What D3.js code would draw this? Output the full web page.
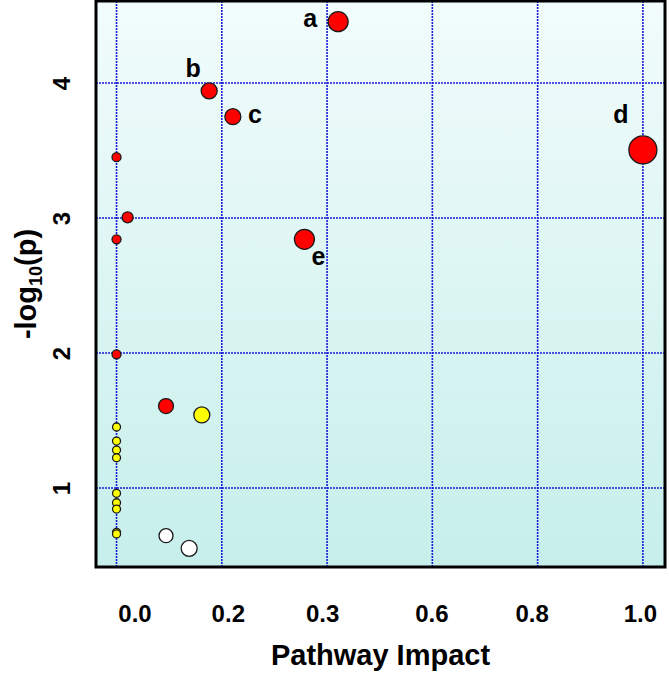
<!DOCTYPE html>
<html><head><meta charset="utf-8">
<script src="https://cdn.jsdelivr.net/npm/d3@7/dist/d3.min.js"></script>
<style>html,body{margin:0;padding:0;background:#fff;}svg{display:block;}</style>
</head><body>
<svg id="chart" width="669" height="676"></svg>
<script>
// ---- data ----
const xTickValues = [0, 0.2, 0.4, 0.6, 0.8, 1.0];
const xTickLabels = ["0.0", "0.2", "0.3", "0.6", "0.8", "1.0"];
const yTickValues = [1, 2, 3, 4];
const yTickLabels = ["1", "2", "3", "4"];

const pathwayImpact = [0.421, 0.176, 0.221, 1.0, 0.357, 0.0, 0.021, 0.0, 0.0, 0.094, 0.162,
  0.0, 0.0, 0.0, 0.0, 0.0, 0.0, 0.0, 0.0, 0.0, 0.094, 0.138];
const negLog10P = [4.454, 3.941, 3.750, 3.504, 2.842, 3.450, 3.005, 2.842, 1.990, 1.607, 1.541,
  1.452, 1.348, 1.281, 1.224, 0.961, 0.891, 0.844, 0.672, 0.660, 0.647, 0.553];
const nodeSize = [10, 8, 8, 14, 10, 4.5, 5.5, 4.5, 4.5, 7.5, 8,
  4, 4, 4, 4, 4, 4, 4, 4, 4, 7, 8];
const significance = ["high", "high", "high", "high", "high", "high", "high", "high", "high", "high", "mid",
  "mid", "mid", "mid", "mid", "mid", "mid", "mid", "mid", "mid", "low", "low"];
const pointLabels = ["a", "b", "c", "d", "e", "", "", "", "", "", "",
  "", "", "", "", "", "", "", "", "", "", ""];

// ---- layout ----
const svg = d3.select("#chart");
const plot = {left: 96, right: 665, top: 1, bottom: 567};
const xLabelShift = [18, 6, -5, -1, -6, -3];

const x = d3.scaleLinear().domain([-0.039, 1.042]).range([plot.left, plot.right]);
const y = d3.scaleLinear().domain([0.415, 4.607]).range([plot.bottom, plot.top]);
const r = d3.scaleLinear().domain([0, 14]).range([0, 14]);
const color = d3.scaleOrdinal().domain(["high", "mid", "low"]).range(["#ff0000", "#ffff00", "#ffffff"]);

const defs = svg.append("defs");
const grad = defs.append("linearGradient").attr("id", "bg").attr("x1", 0).attr("y1", 0).attr("x2", 0).attr("y2", 1);
grad.append("stop").attr("offset", "0%").attr("stop-color", "#f2fcfc");
grad.append("stop").attr("offset", "100%").attr("stop-color", "#c6efeb");

svg.append("rect")
  .attr("x", plot.left).attr("y", plot.top)
  .attr("width", plot.right - plot.left).attr("height", plot.bottom - plot.top)
  .attr("fill", "url(#bg)");

// grid
const grid = svg.append("g").attr("stroke", "#1a1ad6").attr("stroke-width", 1.6).attr("stroke-dasharray", "2,1");
grid.selectAll("line.v").data(xTickValues).join("line").attr("class", "v")
  .attr("x1", d => x(d)).attr("x2", d => x(d)).attr("y1", plot.top).attr("y2", plot.bottom);
grid.selectAll("line.h").data(yTickValues).join("line").attr("class", "h")
  .attr("y1", d => y(d)).attr("y2", d => y(d)).attr("x1", plot.left).attr("x2", plot.right);

// axes (labels only)
const xAxis = d3.axisBottom(x).tickValues(xTickValues)
  .tickFormat((d, i) => xTickLabels[i]).tickSize(0).tickPadding(0);
const gx = svg.append("g").attr("transform", `translate(0,${plot.bottom})`).call(xAxis);
gx.select(".domain").remove();
gx.selectAll("text").attr("dy", null).attr("y", 55)
  .attr("x", (d, i) => xLabelShift[i])
  .attr("font-family", "Liberation Sans, Arial, sans-serif").attr("font-size", 24)
  .attr("font-weight", "bold").attr("fill", "#000");

const yAxis = d3.axisLeft(y).tickValues(yTickValues)
  .tickFormat((d, i) => yTickLabels[i]).tickSize(0).tickPadding(0);
const gy = svg.append("g").attr("transform", `translate(${plot.left},0)`).call(yAxis);
gy.select(".domain").remove();
gy.selectAll(".tick text")
  .attr("x", null).attr("dy", null)
  .attr("text-anchor", "middle")
  .attr("transform", "translate(-26,0) rotate(-90)")
  .attr("font-family", "Liberation Sans, Arial, sans-serif").attr("font-size", 24)
  .attr("font-weight", "bold").attr("fill", "#000");

// points
const idx = d3.range(pathwayImpact.length);
svg.append("g").selectAll("circle").data(idx).join("circle")
  .attr("cx", i => x(pathwayImpact[i]))
  .attr("cy", i => y(negLog10P[i]))
  .attr("r", i => r(nodeSize[i]))
  .attr("fill", i => color(significance[i]))
  .attr("stroke", "#1a1a1a").attr("stroke-width", 1.3);

// point labels
const labelOffset = {a: [-28, 5], b: [-16, -14], c: [22, 6], d: [-22, -27], e: [14, 26]};
svg.append("g").selectAll("text").data(idx.filter(i => pointLabels[i])).join("text")
  .attr("x", i => x(pathwayImpact[i]) + labelOffset[pointLabels[i]][0])
  .attr("y", i => y(negLog10P[i]) + labelOffset[pointLabels[i]][1])
  .attr("text-anchor", "middle")
  .attr("font-family", "Liberation Sans, Arial, sans-serif").attr("font-size", 25)
  .attr("font-weight", "bold").attr("fill", "#000")
  .text(i => pointLabels[i]);

// frame
svg.append("rect")
  .attr("x", plot.left).attr("y", plot.top)
  .attr("width", plot.right - plot.left).attr("height", plot.bottom - plot.top)
  .attr("fill", "none").attr("stroke", "#000").attr("stroke-width", 3);

// axis titles
svg.append("text")
  .attr("x", (plot.left + plot.right) / 2).attr("y", 665)
  .attr("text-anchor", "middle")
  .attr("font-family", "Liberation Sans, Arial, sans-serif").attr("font-size", 29)
  .attr("font-weight", "bold").attr("fill", "#000")
  .text("Pathway Impact");

const yt = svg.append("text")
  .attr("transform", `translate(36,${(plot.top + plot.bottom) / 2}) rotate(-90)`)
  .attr("text-anchor", "middle")
  .attr("font-family", "Liberation Sans, Arial, sans-serif").attr("font-size", 29)
  .attr("font-weight", "bold").attr("fill", "#000");
yt.append("tspan").text("-log");
yt.append("tspan").attr("font-size", 18).attr("dy", 6).text("10");
yt.append("tspan").attr("dy", -6).text("(p)");
</script>
</body></html>
